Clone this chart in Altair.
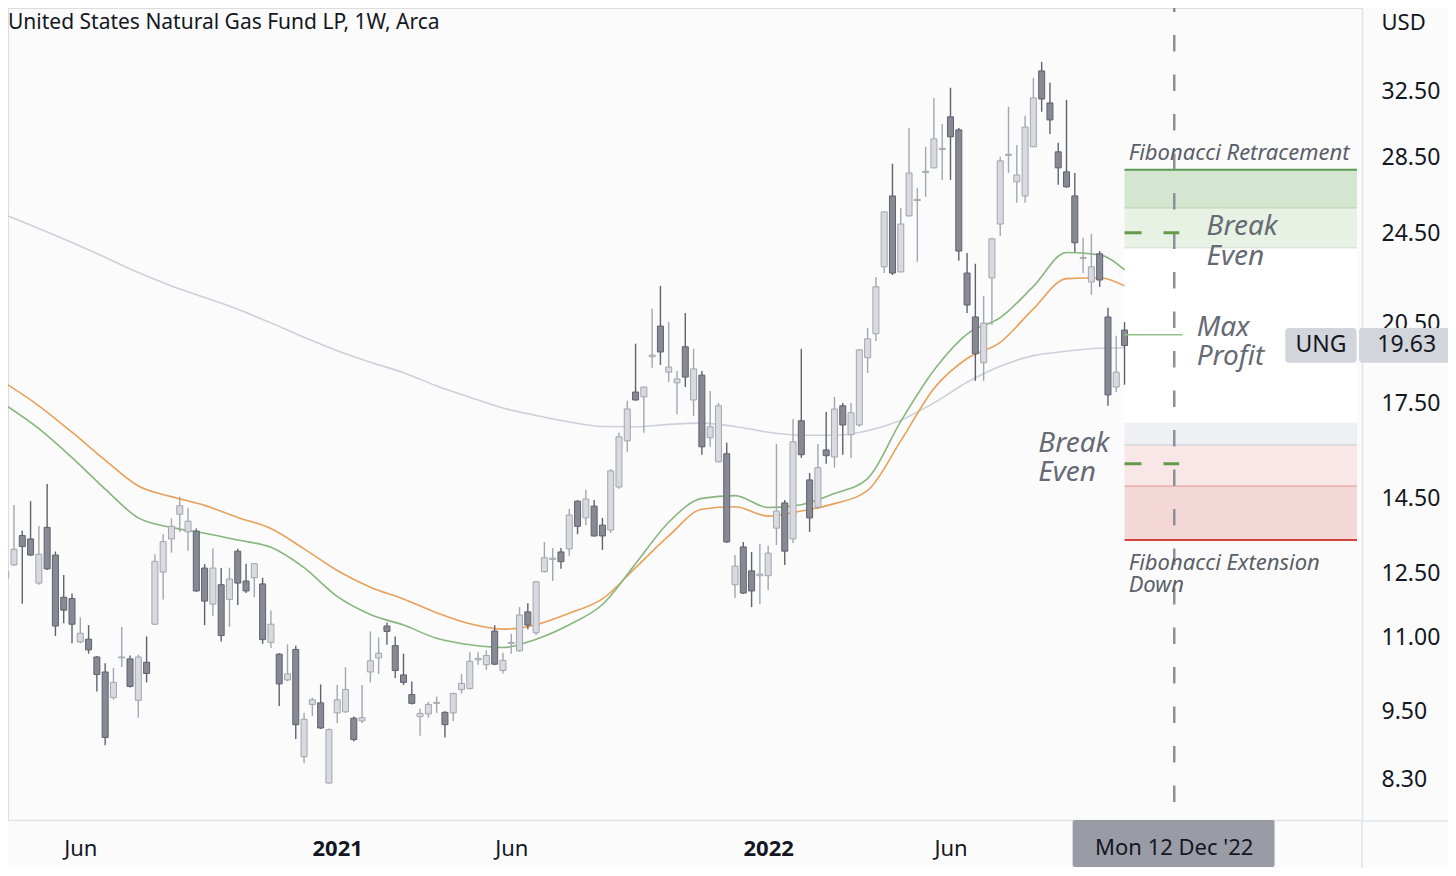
import altair as alt
import pandas as pd

# ---------------------------------------------------------------- data
TITLE = "United States Natural Gas Fund LP, 1W, Arca"
# weekly bars; week 0 = week of 6 Apr 2020, week 39 = 4 Jan 2021, week 91 = 3 Jan 2022
weeks = list(range(-1, 135))

opens = [12.39, 12.71, 13.47, 13.38, 12.26, 13.69, 12.96, 11.92, 11.89, 10.91,
         10.97, 10.59, 10.28, 9.77, 10.57, 10.55, 9.72, 10.48, 11.30, 12.53,
         13.38, 14.05, 13.57, 13.59, 12.63, 11.76, 12.22, 11.87, 13.06, 12.31,
         12.39, 12.24, 10.90, 10.65, 10.12, 10.75, 8.69, 9.64, 9.67, 8.25,
         9.48, 9.50, 9.38, 9.33, 10.28, 10.57, 11.26, 10.83, 10.22, 9.83,
         9.41, 9.46, 9.66, 9.49, 9.48, 9.93, 9.95, 10.53, 10.43, 11.15,
         10.31, 10.88, 10.72, 11.58, 11.11, 12.54, 12.85, 13.04, 13.12, 14.42,
         13.95, 14.28, 13.75, 13.62, 14.83, 16.25, 17.90, 17.73, 19.20, 20.40,
         18.62, 18.23, 19.58, 17.62, 18.51, 16.35, 15.59, 15.84, 12.22, 13.17,
         12.56, 12.44, 12.44, 13.67, 14.37, 13.38, 16.91, 15.04, 14.25, 15.96,
         15.74, 17.42, 16.45, 16.77, 19.16, 20.09, 22.94, 26.40, 22.71, 25.38,
         26.16, 27.66, 27.91, 28.95, 30.88, 30.09, 22.66, 20.77, 18.97, 22.44,
         24.97, 28.61, 27.15, 26.40, 29.10, 33.82, 31.74, 28.81, 27.69, 26.40,
         23.33, 22.26, 23.54, 20.77, 18.08, 20.24]
highs = [12.91, 14.31, 13.60, 14.42, 13.73, 14.92, 13.05, 12.46, 12.01, 11.45,
         11.28, 10.61, 10.46, 10.36, 11.24, 10.62, 10.64, 11.03, 12.98, 13.51,
         13.94, 14.55, 14.23, 13.66, 12.73, 13.13, 12.63, 12.64, 13.12, 12.74,
         12.76, 12.39, 11.61, 10.67, 10.86, 10.83, 9.48, 9.77, 10.03, 9.19,
         10.02, 10.38, 9.41, 10.02, 11.14, 11.01, 11.34, 11.03, 10.66, 10.09,
         9.56, 9.69, 9.79, 9.51, 9.87, 10.24, 10.69, 10.69, 10.73, 11.28,
         10.68, 11.09, 11.69, 11.78, 12.31, 13.30, 13.14, 13.14, 14.20, 14.45,
         14.75, 14.45, 13.95, 15.37, 16.51, 17.59, 19.70, 18.10, 21.11, 22.09,
         20.56, 18.66, 20.94, 19.50, 18.66, 17.94, 17.52, 16.19, 12.96, 13.30,
         13.04, 13.25, 13.20, 16.15, 14.45, 16.97, 19.50, 15.25, 16.15, 17.21,
         17.73, 17.52, 17.52, 19.48, 20.32, 22.48, 25.60, 28.14, 25.78, 30.21,
         26.83, 29.10, 32.06, 30.44, 32.71, 30.21, 23.58, 23.08, 21.65, 24.30,
         28.53, 31.50, 29.21, 30.94, 33.36, 34.43, 33.03, 29.33, 31.93, 27.63,
         24.30, 24.49, 23.67, 21.15, 20.01, 20.56]
lows = [11.55, 12.68, 11.77, 12.94, 12.22, 12.58, 11.04, 11.32, 10.88, 10.88,
        10.66, 9.89, 8.89, 9.73, 10.38, 9.97, 9.39, 10.07, 11.28, 11.87,
        13.02, 13.56, 13.07, 12.05, 11.28, 11.49, 10.92, 11.24, 11.74, 12.02,
        11.92, 10.87, 10.78, 9.61, 10.09, 9.00, 8.58, 9.42, 9.18, 8.24,
        9.29, 9.48, 8.96, 9.29, 10.07, 10.24, 10.85, 10.16, 10.02, 9.64,
        9.06, 9.39, 9.48, 9.03, 9.33, 9.85, 9.93, 10.43, 10.32, 10.42,
        10.25, 10.66, 10.70, 11.19, 11.06, 12.52, 12.31, 12.61, 12.94, 13.51,
        13.75, 13.44, 13.09, 13.54, 14.78, 15.90, 17.60, 16.51, 18.78, 18.89,
        18.26, 17.13, 18.08, 17.07, 15.81, 16.06, 15.57, 13.27, 11.90, 12.00,
        11.69, 11.76, 12.09, 13.22, 12.71, 13.27, 15.71, 13.57, 14.20, 15.53,
        15.41, 15.81, 15.71, 16.71, 18.59, 19.81, 22.66, 22.57, 22.69, 25.33,
        23.17, 26.35, 27.89, 27.25, 27.25, 23.22, 20.94, 18.30, 18.30, 20.44,
        24.39, 27.63, 26.04, 26.04, 29.08, 31.19, 29.85, 26.99, 26.83, 23.63,
        22.66, 21.70, 22.05, 17.42, 17.90, 18.16]
closes = [12.54, 13.11, 13.18, 12.96, 12.98, 12.61, 11.26, 11.62, 11.30, 11.10,
          10.74, 10.23, 9.03, 10.07, 10.59, 9.99, 10.59, 10.25, 12.80, 13.31,
          13.72, 14.29, 13.86, 12.07, 11.83, 12.63, 11.05, 12.36, 12.26, 12.07,
          12.74, 10.96, 11.30, 10.04, 10.24, 9.26, 9.36, 9.73, 9.20, 9.17,
          9.73, 9.93, 8.99, 9.39, 10.51, 10.67, 11.14, 10.31, 10.07, 9.66,
          9.47, 9.64, 9.68, 9.26, 9.85, 10.05, 10.50, 10.56, 10.62, 10.44,
          10.52, 10.90, 11.51, 11.28, 12.29, 12.89, 12.88, 12.79, 14.03, 13.72,
          14.48, 13.46, 13.46, 15.31, 16.38, 17.31, 17.62, 18.08, 19.26, 19.38,
          18.81, 18.37, 18.44, 18.74, 16.06, 16.71, 17.42, 13.30, 12.68, 12.02,
          12.07, 12.48, 13.01, 14.14, 13.06, 16.22, 15.81, 13.95, 15.41, 15.78,
          17.31, 16.77, 17.18, 19.46, 19.89, 22.05, 25.58, 22.66, 24.97, 27.63,
          26.22, 27.72, 29.56, 29.01, 29.68, 23.67, 21.27, 19.31, 20.52, 24.25,
          28.30, 28.67, 27.52, 30.26, 32.06, 31.99, 30.69, 27.91, 26.88, 24.06,
          23.37, 22.94, 22.35, 17.80, 18.62, 19.63]

# moving averages (read every 4th bar)
ma_weeks = [-1, 3, 7, 11, 15, 19, 23, 27, 31, 35, 39, 43, 47, 51, 55, 59, 63, 67,
            71, 75, 79, 83, 87, 91, 95, 99, 103, 107, 111, 115, 119, 123, 127, 131, 134]
ma_fast = [17.44, 16.65, 15.72, 14.77, 13.95, 13.69, 13.53, 13.35, 13.16, 12.64,
           11.94, 11.52, 11.28, 10.99, 10.85, 10.79, 10.97, 11.29, 11.75, 12.74,
           13.83, 14.50, 14.58, 14.24, 14.32, 14.64, 15.08, 16.89, 18.69, 20.08,
           20.74, 22.07, 23.60, 23.49, 22.80]
ma_mid = [18.21, 17.42, 16.53, 15.64, 14.86, 14.55, 14.30, 13.96, 13.66, 13.12,
          12.57, 12.16, 11.88, 11.56, 11.31, 11.19, 11.29, 11.55, 11.88, 12.64,
          13.46, 14.19, 14.26, 14.00, 14.14, 14.35, 14.73, 16.25, 18.03, 19.13,
          19.75, 21.11, 22.41, 22.45, 22.09]
ma_slow = [25.43, 24.75, 24.07, 23.38, 22.68, 22.09, 21.59, 21.09, 20.53, 19.95,
           19.43, 18.99, 18.60, 18.12, 17.72, 17.34, 17.09, 16.87, 16.72, 16.71,
           16.79, 16.83, 16.72, 16.53, 16.43, 16.43, 16.58, 16.93, 17.52, 18.25,
           18.84, 19.24, 19.41, 19.52, 19.54]

# drawing tools (price levels)
ZONE_START = 134                      # drawings start at the last bar
zone_names = ["retr_deep", "retr_shallow", "clear", "ext_neutral", "ext_near", "ext_deep"]
zone_tops = [27.80, 25.78, 23.82, 16.84, 16.12, 14.86]
zone_bottoms = [25.78, 23.82, 16.84, 16.12, 14.86, 13.35]
fib_levels = [27.80, 25.78, 23.82, 16.12, 14.86, 13.35]
break_even_levels = [24.54, 15.53]
max_profit_level = 20.05
break_even_end = 140.6
max_profit_end = 141.0
marker_week = 140                     # Mon 12 Dec '22
marker_bottom = 7.93
last_price = 19.63

small_notes = ["Fibonacci Retracement", "Fibonacci Extension", "Down"]
small_note_weeks = [134.5, 134.5, 134.5]
small_note_prices = [28.75, 12.76, 12.22]
big_notes = ["Break", "Even", "Max", "Profit", "Break", "Even"]
big_note_weeks = [143.9, 143.9, 142.7, 142.7, 123.6, 123.6]
big_note_prices = [24.82, 23.40, 20.32, 19.19, 16.15, 15.25]

price_ticks = [8.30, 9.50, 11.00, 12.50, 14.50, 17.50, 20.50, 24.50, 28.50, 32.50]
date_tick_weeks = [8, 39, 60, 91, 113]
date_tick_labels = ["Jun", "2021", "Jun", "2022", "Jun"]
year_tick_weeks = [39, 91]

# ---------------------------------------------------------------- style
FONT = "Noto Sans"
TEXT = "#131722"
FRAME = "#e0e3eb"
UP_FILL, UP_LINE = "#d9dae0", "#a3a6ae"
DOWN_FILL, DOWN_LINE = "#878a94", "#5f626c"
GREEN, ORANGE, GREY = "#88b67f", "#e8a05a", "#cfcfdb"
zone_colors = ["#d5e6d0", "#e8f2e4", "#ffffff", "#eff0f4", "#f9e7e7", "#f4d7d7"]
fib_colors = ["#5b9a52", "#b5d6ad", "#d3d8d3", "#c9cbd4", "#e79a95", "#d1463e"]
fib_widths = [2, 1, 1, 1, 1, 2]

X_DOMAIN = [-0.12, 162.05]
Y_DOMAIN = [7.667, 38.31]
W, H = 1354, 812

x_scale = alt.Scale(domain=X_DOMAIN, nice=False, zero=False)
y_scale = alt.Scale(type="log", domain=Y_DOMAIN, nice=False, zero=False)

label_expr = ""
for w, lab in zip(date_tick_weeks, date_tick_labels):
    label_expr += f"datum.value == {w} ? '{lab}' : "
label_expr += "''"
bold_test = " || ".join(f"datum.value == {w}" for w in year_tick_weeks)

x_axis = alt.Axis(values=date_tick_weeks, labelExpr=label_expr, title=None, grid=False,
                  ticks=False, tickSize=0, domainColor=FRAME, domainWidth=1.5,
                  labelFontSize=22, labelColor=TEXT, labelFont=FONT, labelPadding=18,
                  labelFlush=False, labelOverlap=False,
                  labelFontWeight={"condition": {"test": bold_test, "value": "bold"},
                                   "value": "normal"})
y_axis = alt.Axis(values=price_ticks, format=".2f", orient="right", grid=False,
                  ticks=False, tickSize=0, domainColor=FRAME, domainWidth=1.5,
                  labelFontSize=23, labelColor=TEXT, labelFont=FONT, labelPadding=19,
                  labelOverlap=False, labelFlush=False,
                  title="USD", titleAngle=0, titleAlign="left", titleBaseline="middle",
                  titleX=19, titleY=14, titleFontSize=22, titleFontWeight="normal",
                  titleColor=TEXT, titleFont=FONT)


def X(field):
    return alt.X(f"{field}:Q", scale=x_scale, axis=x_axis)


def Y(field):
    return alt.Y(f"{field}:Q", scale=y_scale, axis=y_axis)


def hline(level, x_start, x_end, color, width, dash=None):
    df = pd.DataFrame({"x1": [x_start], "x2": [x_end], "level": [level]})
    kw = dict(color=color, strokeWidth=width, clip=True)
    if dash:
        kw["strokeDash"] = dash
    return alt.Chart(df).mark_rule(**kw).encode(x=X("x1"), x2="x2", y=Y("level"))


# ---------------------------------------------------------------- layers
candles = pd.DataFrame({"week": weeks, "open": opens, "high": highs,
                        "low": lows, "close": closes})
up = "datum.close >= datum.open"

zones = pd.DataFrame({"zone": zone_names, "top": zone_tops, "bottom": zone_bottoms,
                      "start": ZONE_START, "end": X_DOMAIN[1]})
zone_rects = alt.Chart(zones).mark_rect(clip=True).encode(
    x=X("start"), x2="end", y=Y("top"), y2="bottom",
    fill=alt.Fill("zone:N", scale=alt.Scale(domain=zone_names, range=zone_colors), legend=None))

fib_lines = [hline(lv, ZONE_START, X_DOMAIN[1], c, w)
             for lv, c, w in zip(fib_levels, fib_colors, fib_widths)]

ma = pd.DataFrame({"week": ma_weeks, "fast": ma_fast, "mid": ma_mid, "slow": ma_slow})
ma_lines = [alt.Chart(ma).mark_line(color=c, strokeWidth=1.6, clip=True, interpolate="monotone")
            .encode(x=X("week"), y=Y(f)) for f, c in [("slow", GREY), ("mid", ORANGE), ("fast", GREEN)]]

wicks = alt.Chart(candles).mark_rule(strokeWidth=1.4, clip=True).encode(
    x=X("week"), y=Y("low"), y2="high",
    color=alt.condition(up, alt.value(UP_LINE), alt.value(DOWN_LINE)))
bodies = alt.Chart(candles).mark_bar(size=6, strokeWidth=1, clip=True).encode(
    x=X("week"), y=Y("open"), y2="close",
    fill=alt.condition(up, alt.value(UP_FILL), alt.value(DOWN_FILL)),
    stroke=alt.condition(up, alt.value(UP_LINE), alt.value(DOWN_LINE)))

marker = alt.Chart(pd.DataFrame({"week": [marker_week], "top": [Y_DOMAIN[1]],
                                 "bottom": [marker_bottom]})).mark_rule(
    color="#8d9099", strokeWidth=2.5, strokeDash=[16.5, 23], strokeDashOffset=12.5).encode(
    x=X("week"), y=Y("top"), y2="bottom")

be_lines = [hline(lv, ZONE_START, break_even_end, "#639a4c", 3, dash=[17, 22])
            for lv in break_even_levels]
mp_line = hline(max_profit_level, ZONE_START, max_profit_end, "#93c28b", 1.5)

small_df = pd.DataFrame({"t": small_notes, "week": small_note_weeks, "p": small_note_prices})
small_text = alt.Chart(small_df).mark_text(
    align="left", baseline="middle", fontSize=22, fontStyle="italic", font=FONT,
    color="#5a5e69").encode(x=X("week"), y=Y("p"), text="t:N")
big_df = pd.DataFrame({"t": big_notes, "week": big_note_weeks, "p": big_note_prices})
big_text = alt.Chart(big_df).mark_text(
    align="left", baseline="middle", fontSize=28, fontStyle="italic", font=FONT,
    color="#666a75").encode(x=X("week"), y=Y("p"), text="t:N")

# last price labels on the price scale
tag_df = pd.DataFrame({"x1": [153.4, 162.3], "x2": [162.0, 175.0],
                       "top": [20.32, 20.32], "bottom": [18.97, 18.97]})
tag_boxes = alt.Chart(tag_df).mark_rect(color="#d3d5dc", cornerRadius=3, clip=False).encode(
    x=X("x1"), x2="x2", y=Y("top"), y2="bottom")
tag_txt_df = pd.DataFrame({"t": ["UNG", f"{last_price:.2f}"], "week": [157.7, 164.5],
                           "p": [last_price, last_price]})
tag_ung = alt.Chart(tag_txt_df.iloc[[0]]).mark_text(
    align="center", baseline="middle", fontSize=23, font=FONT, color=TEXT, clip=False).encode(
    x=X("week"), y=Y("p"), text="t:N")
tag_val = alt.Chart(tag_txt_df.iloc[[1]]).mark_text(
    align="left", baseline="middle", fontSize=23, font=FONT, color=TEXT, clip=False).encode(
    x=X("week"), y=Y("p"), text="t:N")

# date label on the time scale
date_df = pd.DataFrame({"x1": [127.74], "x2": [152.1], "week": [marker_week],
                        "t": ["Mon 12 Dec '22"]})
date_box = alt.Chart(date_df).mark_rect(color="#9a9ca5", cornerRadius=2, clip=False).encode(
    x=X("x1"), x2="x2", y=alt.value(H), y2=alt.value(H + 47))
date_txt = alt.Chart(date_df).mark_text(
    align="center", baseline="middle", fontSize=22, font=FONT, color=TEXT, clip=False).encode(
    x=X("week"), y=alt.value(H + 28), text="t:N")

one = pd.DataFrame({"t": [TITLE]})
title = alt.Chart(one).mark_text(align="left", baseline="middle", fontSize=21, font=FONT,
                                 color=TEXT, clip=False).encode(
    x=alt.value(0), y=alt.value(15), text="t:N")
frame_v = alt.Chart(one).mark_rule(color=FRAME, strokeWidth=1.5, clip=False).encode(
    x=alt.value(W), y=alt.value(H), y2=alt.value(H + 60))
frame_h = alt.Chart(one).mark_rule(color=FRAME, strokeWidth=1.5, clip=False).encode(
    x=alt.value(W), x2=alt.value(W + 90), y=alt.value(H + 1))

chart = alt.layer(
    zone_rects, *fib_lines, *ma_lines, wicks, bodies, marker, *be_lines, mp_line,
    small_text, big_text, tag_boxes, tag_ung, tag_val, date_box, date_txt,
    title, frame_v, frame_h,
).properties(
    width=W, height=H,
    autosize=alt.AutoSizeParams(type="none"),
    padding={"left": 0, "top": 0, "right": 86, "bottom": 48},
    background="#fbfbfb",
).configure_view(stroke=None).configure(font=FONT)

chart.save("out.html", embed_options={"renderer": "svg", "actions": False})
